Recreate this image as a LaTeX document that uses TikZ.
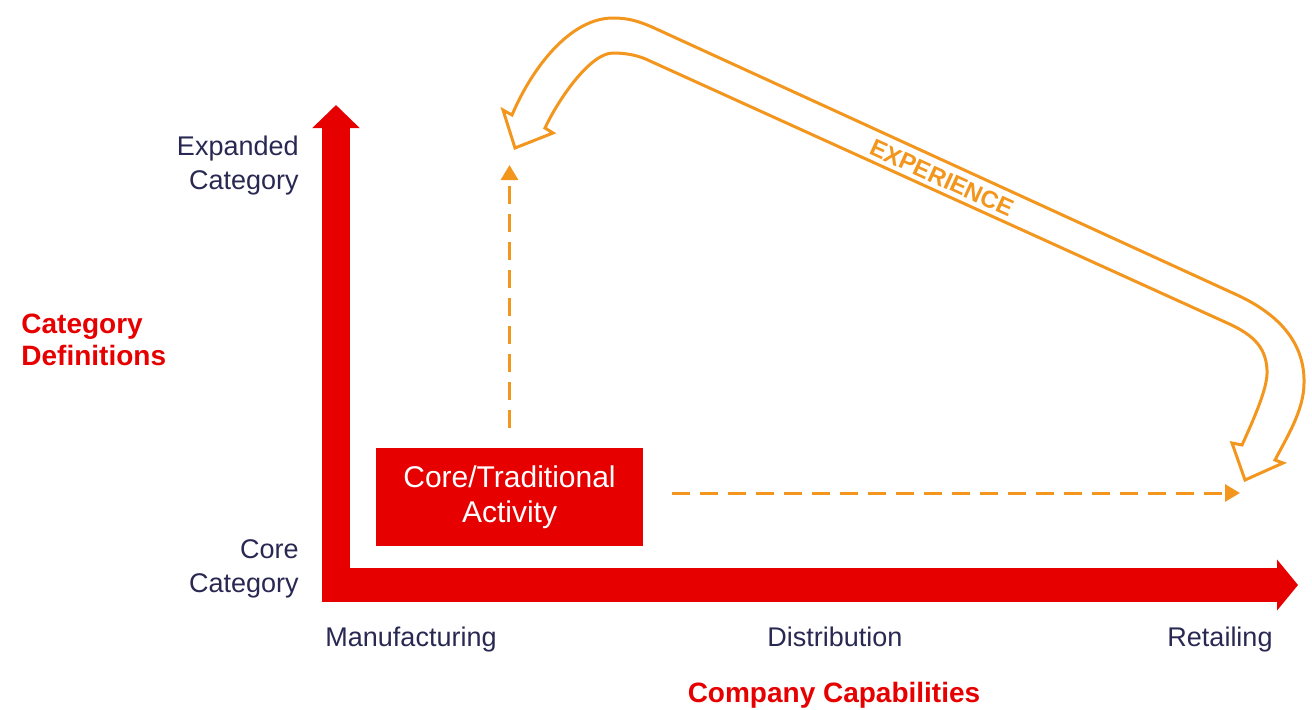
\documentclass[tikz,border=0pt]{standalone}
\usepackage{fontspec}
\setmainfont{Liberation Sans}
\usetikzlibrary{arrows.meta, positioning}

\definecolor{axisred}{RGB}{230,0,0}
\definecolor{exporange}{RGB}{243,150,30}
\definecolor{labelnavy}{RGB}{40,40,82}

\begin{document}
\begin{tikzpicture}[
        x=0.5pt, y=-0.5pt,
        yaxis/.style={axisred, line width=14pt, -{Triangle[length=11.5pt, width=23pt]}},
        xaxis/.style={axisred, line width=17pt, -{Triangle[length=10.5pt, width=25pt]}},
        activitybox/.style={rectangle, fill=axisred, text=white, minimum width=133.5pt,
                        minimum height=49pt, align=center, font=\fontsize{15}{17.5}\selectfont},
        axislabel/.style={text=labelnavy, inner sep=0pt, font=\fontsize{13.5}{17}\selectfont},
        titlelabel/.style={text=axisred, inner sep=0pt, font=\bfseries\fontsize{14}{16}\selectfont},
        dasharrow/.style={exporange, line width=1.5pt, dash pattern=on 9pt off 5pt,
                        -{Triangle[length=7.5pt, width=8.5pt]}},
        hollow/.style={exporange, line width=1.5pt, fill=white}
    ]
        \useasboundingbox (0,0) rectangle (1312,709);

        % axes
        \coordinate (corner) at (336,602);
        \coordinate (ytip) at (336,105);
        \coordinate (xstart) at (322,585);
        \coordinate (xtip) at (1298,585);
        \draw[yaxis] (corner) -- (ytip);
        \draw[xaxis] (xstart) -- (xtip);

        % axis labels
        \node[axislabel, anchor=east, align=right] (expanded) at (299,166) {Expanded\\Category};
        \node[axislabel, anchor=east, align=right] (core) at (299,569) {Core\\Category};
        \node[titlelabel, anchor=west, align=left] (catdef) at (21,340) {Category\\Definitions};

        \node[axislabel, anchor=base] (manufacturing) at (411,646) {Manufacturing};
        \node[axislabel, anchor=base] (distribution) at (835,646) {Distribution};
        \node[axislabel, anchor=base] (retailing) at (1220,646) {Retailing};
        \node[titlelabel, anchor=base] (capabilities) at (834,702) {Company Capabilities};

        % the core activity and where it can grow
        \node[activitybox] (activity) at (509.5,497) {Core/Traditional\\Activity};
        \coordinate (uptip) at (509.5,165);
        \coordinate (sidetip) at (1240,493);
        \draw[dasharrow] ([yshift=10pt]activity.north) -- (uptip);
        \draw[dasharrow] ([shift={(14.5pt,2pt)}]activity.east) -- (sidetip);

        % big hollow arrow, heads at both ends
        \draw[hollow] (515,148) -- (503,110) -- (512,115)
            .. controls (532,68) and (570,18) .. (613,18)
            .. controls (628,18) and (638,21) .. (652,27) -- (1235,294)
            .. controls (1275,312) and (1305,340) .. (1304,383)
            .. controls (1304,410) and (1287,437) .. (1275,460)
            -- (1283,463) -- (1245,480) -- (1232,443) -- (1242,445)
            .. controls (1258,410) and (1268,385) .. (1267,370)
            .. controls (1266,345) and (1250,333) .. (1225,322) -- (650,61)
            .. controls (640,56) and (628,53) .. (613,53)
            .. controls (590,53) and (558,100) .. (545,128)
            -- (553,133) -- cycle;
        \node[rotate=-24.5, text=exporange, inner sep=0pt,
              font=\bfseries\fontsize{12}{14}\selectfont] (experience) at (942,178) {EXPERIENCE};
    \end{tikzpicture}
\end{document}
